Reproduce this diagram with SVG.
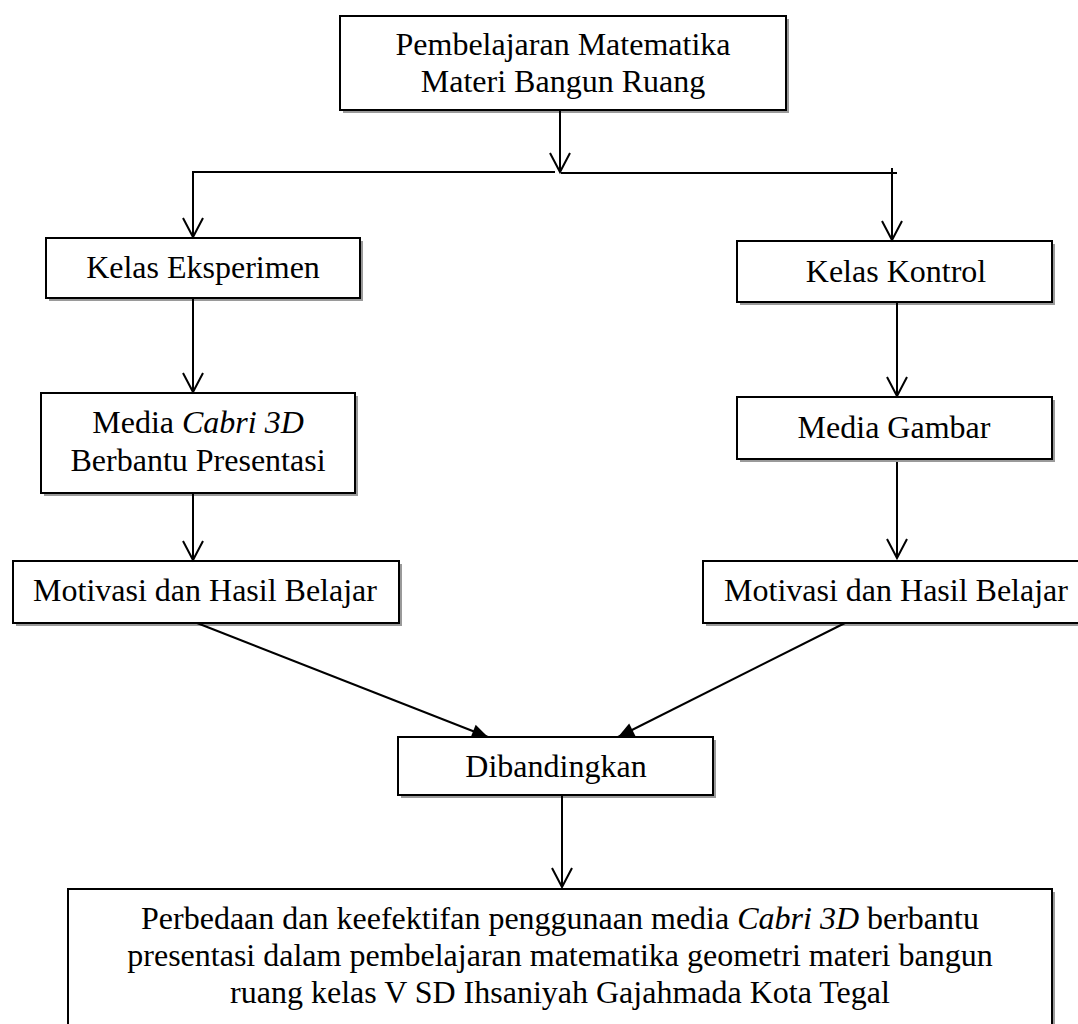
<svg xmlns="http://www.w3.org/2000/svg" width="1078" height="1024" viewBox="0 0 1078 1024">
<style>
.box{fill:#fff;stroke:#000;stroke-width:2}
.sh{fill:#9a9a9a}
.t{font-family:"Liberation Serif","Times New Roman",serif;font-size:32px;fill:#000;text-anchor:middle}
.i{font-style:italic}
.c{fill:none;stroke:#000;stroke-width:2}
</style>
<defs>
<marker id="open" markerUnits="userSpaceOnUse" markerWidth="24" markerHeight="24" orient="auto" overflow="visible" refX="0" refY="0">
<path d="M-19,-10 L0,0 L-19,10" fill="none" stroke="#000" stroke-width="2"/>
</marker>
<marker id="solid" markerUnits="userSpaceOnUse" markerWidth="24" markerHeight="24" orient="auto" overflow="visible" refX="0" refY="0">
<path d="M-16,-7 L0,0 L-16,7 Z" fill="#000"/>
</marker>
</defs>
<rect width="1078" height="1024" fill="#fff"/>

<g id="n-top">
<rect class="sh" x="343" y="19" width="446" height="94"/>
<rect class="box" x="340" y="16" width="446" height="94"/>
<text class="t" x="563" y="55">Pembelajaran Matematika</text>
<text class="t" x="563" y="92">Materi Bangun Ruang</text>
</g>

<g id="n-eksperimen">
<rect class="sh" x="49" y="241" width="314" height="60"/>
<rect class="box" x="46" y="238" width="314" height="60"/>
<text class="t" x="203" y="278">Kelas Eksperimen</text>
</g>

<g id="n-kontrol">
<rect class="sh" x="740" y="244" width="315" height="61"/>
<rect class="box" x="737" y="241" width="315" height="61"/>
<text class="t" x="896" y="282">Kelas Kontrol</text>
</g>

<g id="n-cabri">
<rect class="sh" x="44" y="396" width="314" height="100"/>
<rect class="box" x="41" y="393" width="314" height="100"/>
<text class="t" x="198" y="433">Media <tspan class="i">Cabri 3D</tspan></text>
<text class="t" x="198" y="471">Berbantu Presentasi</text>
</g>

<g id="n-gambar">
<rect class="sh" x="740" y="400" width="315" height="62"/>
<rect class="box" x="737" y="397" width="315" height="62"/>
<text class="t" x="894" y="438">Media Gambar</text>
</g>

<g id="n-motivasi-l">
<rect class="sh" x="16" y="564" width="386" height="62"/>
<rect class="box" x="13" y="561" width="386" height="62"/>
<text class="t" x="205" y="601">Motivasi dan Hasil Belajar</text>
</g>

<g id="n-motivasi-r">
<rect class="sh" x="706" y="564" width="386" height="62"/>
<rect class="box" x="703" y="561" width="386" height="62"/>
<text class="t" x="896" y="601">Motivasi dan Hasil Belajar</text>
</g>

<g id="n-dibandingkan">
<rect class="sh" x="401" y="740" width="315" height="58"/>
<rect class="box" x="398" y="737" width="315" height="58"/>
<text class="t" x="556" y="777">Dibandingkan</text>
</g>

<g id="n-hasil">
<rect class="sh" x="71" y="892" width="984" height="150"/>
<rect class="box" x="68" y="889" width="984" height="150"/>
<text class="t" x="560" y="929">Perbedaan dan keefektifan penggunaan media <tspan class="i">Cabri 3D</tspan> berbantu</text>
<text class="t" x="560" y="966">presentasi dalam pembelajaran matematika geometri materi bangun</text>
<text class="t" x="560" y="1003">ruang kelas V SD Ihsaniyah Gajahmada Kota Tegal</text>
</g>

<g id="connectors">
<path class="c" d="M560,110 L560,172" marker-end="url(#open)"/>
<path class="c" d="M555,172 L193,172 L193,237" marker-end="url(#open)"/>
<path class="c" d="M561,173 L897,173"/>
<path class="c" d="M892,168 L892,240" marker-end="url(#open)"/>
<path class="c" d="M193,298 L193,392" marker-end="url(#open)"/>
<path class="c" d="M897,302 L897,396" marker-end="url(#open)"/>
<path class="c" d="M193,493 L193,560" marker-end="url(#open)"/>
<path class="c" d="M897,462 L897,558" marker-end="url(#open)"/>
<path class="c" d="M197,623 L488,737" marker-end="url(#solid)"/>
<path class="c" d="M845,623 L618,737" marker-end="url(#solid)"/>
<path class="c" d="M562,795 L562,887" marker-end="url(#open)"/>
</g>
</svg>
